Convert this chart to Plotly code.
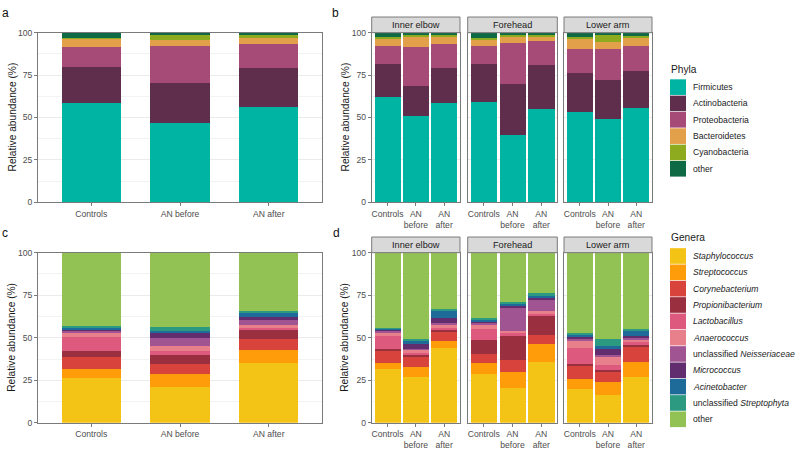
import plotly.graph_objects as go

# ---------------- data ----------------
groups = ["Controls", "AN before", "AN after"]
group_ticks_facet = ["Controls", "AN<br>before", "AN<br>after"]
sites = ["Inner elbow", "Forehead", "Lower arm"]

phyla = ["Firmicutes", "Actinobacteria", "Proteobacteria", "Bacteroidetes", "Cyanobacteria", "other"]
phyla_colors = ["#00B4A4", "#5E2E4C", "#A64A78", "#E2A04A", "#8EAA1E", "#0D6A45"]

# rows: phylum, columns: Controls, AN before, AN after (relative abundance %)
phyla_overall = [[58.5, 47.0, 56.5], [21.5, 23.5, 23.0], [11.7, 21.6, 14.2],
                 [4.8, 4.0, 3.4], [0.8, 2.8, 1.5], [2.7, 1.1, 1.4]]
phyla_inner_elbow = [[62.5, 51.0, 58.5], [19.0, 17.5, 21.0], [10.8, 23.2, 14.0],
                     [4.6, 5.8, 4.0], [0.8, 1.2, 1.5], [2.3, 1.3, 1.0]]
phyla_forehead = [[59.5, 40.0, 55.0], [22.5, 30.0, 26.0], [10.5, 24.0, 14.2],
                  [3.7, 3.8, 2.6], [0.8, 1.2, 1.2], [3.0, 1.0, 1.0]]
phyla_lower_arm = [[53.5, 49.5, 55.5], [23.0, 22.5, 22.0], [14.0, 18.5, 14.8],
                   [5.9, 4.1, 4.7], [1.5, 4.4, 1.5], [2.1, 1.0, 1.5]]

genera = ["<i>Staphylococcus</i>", "<i>Streptococcus</i>", "<i>Corynebacterium</i>",
          "<i>Propionibacterium</i>", "<i>Lactobacillus</i>", "<i>Anaerococcus</i>",
          "unclassified <i>Neisseriaceae</i>", "<i>Micrococcus</i>", "<i>Acinetobacter</i>",
          "unclassified <i>Streptophyta</i>", "other"]
genera_colors = ["#F3C316", "#FE9C0A", "#D8433B", "#9A2F3F", "#DD5A7E", "#E8808B",
                 "#A05592", "#612D6E", "#1E6A99", "#2B9A80", "#92C154"]

genera_overall = [[26.8, 21.5, 35.4], [5.2, 7.2, 7.5], [6.7, 6.2, 6.7], [3.8, 5.3, 5.2],
                  [7.9, 2.3, 1.1], [2.7, 2.7, 2.0], [0.8, 5.0, 2.6], [1.3, 2.7, 1.6],
                  [0.9, 1.3, 2.7], [1.2, 2.3, 1.3], [42.7, 43.5, 33.9]]
genera_inner_elbow = [[32.0, 27.2, 44.2], [3.2, 5.8, 3.9], [7.0, 6.1, 5.5], [1.3, 0.9, 1.6],
                      [7.6, 1.2, 0.8], [2.3, 1.8, 2.2], [0.9, 0.6, 0.9], [0.9, 3.2, 2.6],
                      [0.5, 1.6, 4.0], [0.5, 1.3, 1.3], [43.8, 50.3, 33.0]]
genera_forehead = [[29.1, 20.5, 35.8], [6.5, 9.6, 10.6], [5.3, 7.1, 5.3], [8.0, 13.9, 11.5],
                   [6.3, 2.0, 0.8], [3.0, 1.3, 1.9], [0.9, 13.5, 6.9], [0.9, 1.0, 1.0],
                   [0.8, 1.2, 1.5], [0.9, 1.0, 0.9], [38.3, 28.9, 23.8]]
genera_lower_arm = [[19.9, 16.5, 27.2], [5.8, 7.4, 8.6], [7.6, 6.2, 9.2], [1.2, 0.9, 1.0],
                    [9.9, 3.3, 1.9], [4.3, 5.0, 1.3], [0.5, 0.9, 0.6], [1.4, 3.3, 1.3],
                    [1.5, 1.9, 2.9], [1.0, 4.2, 1.4], [46.9, 50.4, 44.6]]

y_ticks = [0, 25, 50, 75, 100]

# ---------------- layout geometry (pixels) ----------------
W, H = 796, 450
FONT = "Liberation Sans, Arial, sans-serif"
TICK_SIZE = 8.6


def px(x):
    return x / W


def py(y):
    return 1 - y / H


top_row = (28.3, 201.7)
bot_row = (253.3, 427.3)
single_x = (38.0, 322.0)
facet_x = [(371.7, 460.0), (467.7, 557.3), (564.0, 652.0)]

fig = go.Figure()
layout_axes = {}
axis_idx = [0]


def add_axes(xr, yr, ticktext, xrange, show_ylabels=True):
    axis_idx[0] += 1
    i = axis_idx[0]
    xname = "xaxis" if i == 1 else f"xaxis{i}"
    yname = "yaxis" if i == 1 else f"yaxis{i}"
    xref = "x" if i == 1 else f"x{i}"
    yref = "y" if i == 1 else f"y{i}"
    layout_axes[xname] = dict(
        domain=[px(xr[0]), px(xr[1])], anchor=yref, type="category",
        range=xrange, showgrid=False, showline=True, mirror=True,
        linecolor="#7a7a7a", linewidth=1, ticks="outside", ticklen=3,
        tickcolor="#7a7a7a", tickfont=dict(size=TICK_SIZE, color="#4d4d4d", family=FONT),
        tickvals=groups, ticktext=ticktext, tickangle=0, zeroline=False, fixedrange=True,
    )
    layout_axes[yname] = dict(
        domain=[py(yr[1]), py(yr[0])], anchor=xref, range=[0, 100],
        showgrid=True, gridcolor="#EBEBEB", gridwidth=1,
        minor=dict(dtick=12.5, showgrid=True, gridcolor="#F3F3F3", gridwidth=0.6),
        tickvals=y_ticks, ticktext=[str(t) for t in y_ticks] if show_ylabels else None,
        showticklabels=show_ylabels,
        showline=True, mirror=True, linecolor="#7a7a7a", linewidth=1,
        ticks="outside" if show_ylabels else "", ticklen=3, tickcolor="#7a7a7a",
        tickfont=dict(size=TICK_SIZE, color="#4d4d4d", family=FONT), zeroline=False,
        fixedrange=True,
    )
    return xref, yref


def add_stack(values, names, colors, xref, yref, width):
    for name, color, vals in zip(names, colors, values):
        fig.add_trace(go.Bar(
            x=groups, y=vals, name=name, marker=dict(color=color, line=dict(width=0)),
            width=width, xaxis=xref, yaxis=yref, showlegend=False,
            hovertemplate=name + ": %{y:.1f}%<extra></extra>",
        ))


# panel a
xr, yr = add_axes(single_x, top_row, groups, [-0.6, 2.6])
add_stack(phyla_overall, phyla, phyla_colors, xr, yr, 0.665)
# panel b
for k, tbl in enumerate([phyla_inner_elbow, phyla_forehead, phyla_lower_arm]):
    xr, yr = add_axes(facet_x[k], top_row, group_ticks_facet, [-0.56, 2.56], show_ylabels=(k == 0))
    add_stack(tbl, phyla, phyla_colors, xr, yr, 0.92)
# panel c
xr, yr = add_axes(single_x, bot_row, groups, [-0.6, 2.6])
add_stack(genera_overall, genera, genera_colors, xr, yr, 0.665)
# panel d
for k, tbl in enumerate([genera_inner_elbow, genera_forehead, genera_lower_arm]):
    xr, yr = add_axes(facet_x[k], bot_row, group_ticks_facet, [-0.56, 2.56], show_ylabels=(k == 0))
    add_stack(tbl, genera, genera_colors, xr, yr, 0.92)

shapes = []
annotations = []

# facet strips
for row_top in (top_row[0], bot_row[0]):
    for k, (x0, x1) in enumerate(facet_x):
        shapes.append(dict(type="rect", xref="paper", yref="paper",
                           x0=px(x0), x1=px(x1), y0=py(row_top), y1=py(row_top - 16),
                           fillcolor="#D9D9D9", line=dict(color="#7a7a7a", width=1)))
        annotations.append(dict(text=sites[k], xref="paper", yref="paper",
                                x=px((x0 + x1) / 2), y=py(row_top - 8), showarrow=False,
                                xanchor="center", yanchor="middle",
                                font=dict(size=9.2, color="#1a1a1a", family=FONT)))

# y axis titles
for (xc, row) in [(12, top_row), (345, top_row), (12, bot_row), (345, bot_row)]:
    annotations.append(dict(text="Relative abundance (%)", xref="paper", yref="paper",
                            x=px(xc), y=py((row[0] + row[1]) / 2), textangle=-90,
                            showarrow=False, xanchor="center", yanchor="middle",
                            font=dict(size=10.2, color="#1a1a1a", family=FONT)))

# panel letters
for letter, x, y in [("a", 5, 8), ("b", 335, 8), ("c", 5, 233), ("d", 336, 233)]:
    annotations.append(dict(text=letter, xref="paper", yref="paper", x=px(x), y=py(y),
                            showarrow=False, xanchor="center", yanchor="middle",
                            font=dict(size=12, color="#111111", family=FONT)))


# legends (drawn as keys + labels)
def draw_legend(title, title_y, first_y, names, colors):
    annotations.append(dict(text=title, xref="paper", yref="paper", x=px(669), y=py(title_y),
                            showarrow=False, xanchor="left", yanchor="middle",
                            font=dict(size=10.2, color="#1a1a1a", family=FONT)))
    step = 16.7
    for j, (n, c) in enumerate(zip(names, colors)):
        yc = first_y + j * step
        shapes.append(dict(type="rect", xref="paper", yref="paper",
                           x0=px(670), x1=px(686), y0=py(yc - 8), y1=py(yc + 8),
                           fillcolor=c, line=dict(width=0)))
        annotations.append(dict(text=n, xref="paper", yref="paper", x=px(691), y=py(yc),
                                showarrow=False, xanchor="left", yanchor="middle",
                                font=dict(size=8.6, color="#1a1a1a", family=FONT)))


draw_legend("Phyla", 66, 84, phyla, phyla_colors)
draw_legend("Genera", 238, 256.7, genera, genera_colors)

fig.update_layout(
    width=W, height=H, margin=dict(l=0, r=0, t=0, b=0),
    barmode="stack", bargap=0, plot_bgcolor="white", paper_bgcolor="white",
    showlegend=False, shapes=shapes, annotations=annotations,
    font=dict(family=FONT),
    **layout_axes,
)

fig.write_html(
    "out.html",
    config={"displayModeBar": False},
    post_script="document.body.style.margin='0';document.body.style.padding='0';",
)
